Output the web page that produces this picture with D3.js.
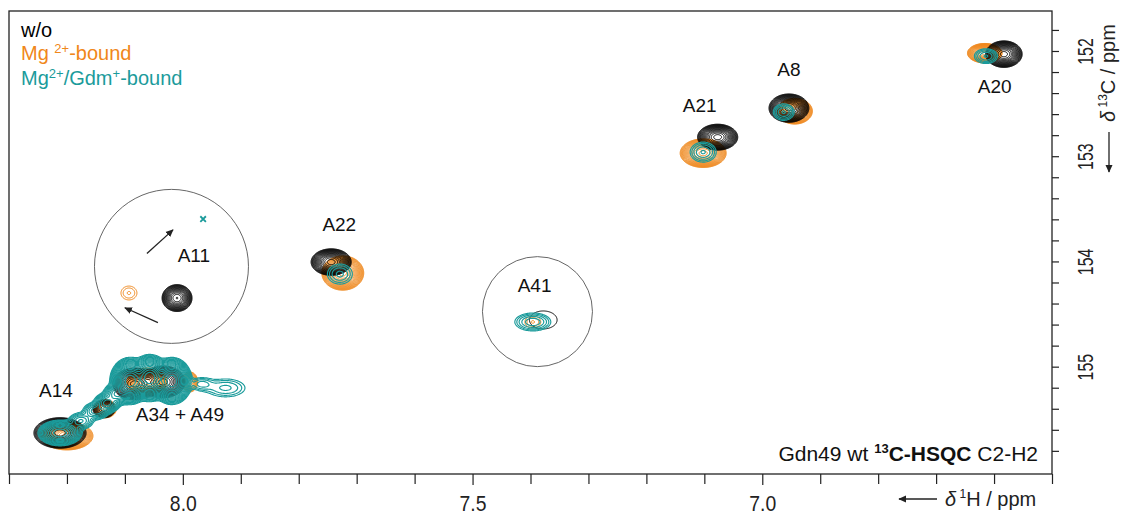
<!DOCTYPE html>
<html>
<head>
<meta charset="utf-8">
<script src="https://cdn.jsdelivr.net/npm/d3@7"></script>
<style>
  html, body { margin: 0; padding: 0; background: #fff; }
  svg { display: block; font-family: "Liberation Sans", Arial, Helvetica, sans-serif; }
</style>
</head>
<body>
<svg id="chart" width="1129" height="517"></svg>
<script>
// Spectral window (ppm)
const hWindow = [8.3, 6.5];
const cWindow = [151.62, 156.02];

// Axis ticks (ppm)
const hMajorTicks = [8.0, 7.5, 7.0];
const hMinorTicks = [8.3, 8.2, 8.1, 7.9, 7.8, 7.7, 7.6, 7.4, 7.3, 7.2, 7.1, 6.9, 6.8, 6.7, 6.6, 6.5];
const cMajorTicks = [152, 153, 154, 155];
const cMinorTicks = [151.8, 152.2, 152.4, 152.6, 152.8, 153.2, 153.4, 153.6, 153.8,
                     154.2, 154.4, 154.6, 154.8, 155.2, 155.4, 155.6, 155.8];

// Cross peaks: [δ1H ppm, δ13C ppm, intensity (contour base units), σ 1H ppm, σ 13C ppm]
const peaksFree = [
  [6.583, 152.030, 60, 0.0110, 0.044],   // A20
  [6.954, 152.543, 60, 0.0120, 0.047],   // A8
  [7.077, 152.819, 60, 0.0121, 0.043],   // A21
  [7.744, 154.006, 60, 0.0121, 0.044],   // A22
  [8.010, 154.348, 40, 0.0095, 0.047],   // A11
  [7.378, 154.556, 1.3, 0.033, 0.118],   // A41
  [8.212, 155.630, 80, 0.0152, 0.049],   // A14
  [8.083, 155.164, 60, 0.0133, 0.053],   // A34
  [8.034, 155.145, 60, 0.0133, 0.053],   // A49
  [8.136, 155.400, 10, 0.0090, 0.040]
];
const peaksMg = [
  [6.616, 152.021, 40, 0.0110, 0.034],   // A20
  [6.944, 152.572, 40, 0.0112, 0.045],   // A8
  [7.102, 152.971, 40, 0.0146, 0.050],   // A21
  [7.724, 154.110, 40, 0.0133, 0.060],   // A22
  [8.093, 154.300, 1.6, 0.0142, 0.068],  // A11
  [7.396, 154.575, 1.6, 0.0142, 0.059],  // A41
  [8.200, 155.658, 40, 0.0165, 0.049],   // A14
  [8.062, 155.145, 40, 0.0127, 0.049],   // A34
  [7.988, 155.145, 8, 0.0068, 0.0465],   // A49
  [8.134, 155.400, 10, 0.0090, 0.040]
];
const peaksMgGdm = [
  [6.614, 152.049, 4, 0.0120, 0.042],    // A20
  [6.963, 152.581, 4, 0.0108, 0.047],    // A8
  [7.102, 152.961, 4, 0.0135, 0.057],    // A21
  [7.729, 154.120, 3, 0.0145, 0.064],    // A22
  [7.396, 154.575, 5, 0.0173, 0.0475],   // A41
  [8.212, 155.630, 40, 0.0140, 0.045],   // A14
  [8.091, 155.136, 300, 0.0104, 0.0665], // A34 + A49
  [8.057, 155.108, 300, 0.0104, 0.0665],
  [8.019, 155.136, 300, 0.0104, 0.0665],
  [8.176, 155.516, 8, 0.0104, 0.038],    // bridge towards A14
  [8.150, 155.421, 10, 0.0104, 0.038],
  [8.131, 155.345, 25, 0.0090, 0.038],
  [8.114, 155.260, 30, 0.0090, 0.040],
  [7.968, 155.164, 3, 0.0120, 0.038],    // weak shoulder
  [7.926, 155.202, 3, 0.0224, 0.057]
];
// A11 in the Mg2+/Gdm+ state: weak cross marker only
const markMgGdm = [[7.965, 153.597]];

// Assignment labels (text baseline position in ppm)
const assignLabels = [
  ["A20", 6.599, 152.402],
  ["A8", 6.954, 152.234],
  ["A21", 7.108, 152.580],
  ["A22", 7.730, 153.710],
  ["A11", 7.981, 154.010],
  ["A41", 7.393, 154.290],
  ["A14", 8.219, 155.290],
  ["A34 + A49", 8.005, 155.514]
];

// Highlight circles: [center 1H, center 13C, radius px]
const circles = [[8.0196, 154.047, 77], [7.388, 154.477, 55]];
// Shift arrows around A11: [from 1H, from 13C, to 1H, to 13C]
const shiftArrows = [
  [8.062, 153.925, 8.017, 153.700],
  [8.043, 154.582, 8.100, 154.440]
];

const colors = { free: "#000000", mg: "#f0871a", mgGdm: "#1b9b9b" };

// ---------------------------------------------------------------
const plot = { left: 9, top: 11, right: 1052, bottom: 474 };
const x = d3.scaleLinear().domain(hWindow).range([plot.left, plot.right]);
const y = d3.scaleLinear().domain(cWindow).range([plot.top, plot.bottom]);

const svg = d3.select("#chart");
const defs = svg.append("defs");
defs.append("clipPath").attr("id", "plotClip")
  .append("rect")
  .attr("x", plot.left).attr("y", plot.top)
  .attr("width", plot.right - plot.left).attr("height", plot.bottom - plot.top);
defs.append("marker")
  .attr("id", "arrowHead")
  .attr("viewBox", "0 0 10 10")
  .attr("refX", 9).attr("refY", 5)
  .attr("markerWidth", 6).attr("markerHeight", 6)
  .attr("orient", "auto")
  .append("path").attr("d", "M0,0.5L10,5L0,9.5z").attr("fill", "#222");

// Sampling grid (1 px) over the plot area
const nx = plot.right - plot.left;
const ny = plot.bottom - plot.top;
const gridH = d3.scaleLinear().domain([0, nx]).range(hWindow);
const gridC = d3.scaleLinear().domain([0, ny]).range(cWindow);

function spectrum(peaks) {
  const v = new Float64Array(nx * ny);
  for (const [h, c, a, sh, sc] of peaks) {
    const cx = x(h) - plot.left, cy = y(c) - plot.top;
    const rx = 5 * Math.abs(x(h + sh) - x(h)), ry = 5 * Math.abs(y(c + sc) - y(c));
    const i0 = Math.max(0, Math.floor(cx - rx)), i1 = Math.min(nx - 1, Math.ceil(cx + rx));
    const j0 = Math.max(0, Math.floor(cy - ry)), j1 = Math.min(ny - 1, Math.ceil(cy + ry));
    for (let j = j0; j <= j1; j++) {
      const dc = (gridC(j + 0.5) - c) / sc;
      for (let i = i0; i <= i1; i++) {
        const dh = (gridH(i + 0.5) - h) / sh;
        v[j * nx + i] += a * Math.exp(-0.5 * (dh * dh + dc * dc));
      }
    }
  }
  return v;
}

const toPlot = d3.geoTransform({
  point(gx, gy) { this.stream.point(x(gridH(gx)), y(gridC(gy))); }
});
const contourPath = d3.geoPath(toPlot);

function drawContours(peaks, factor, count, color, width) {
  const levels = d3.range(count).map(k => Math.pow(factor, k));
  const sets = d3.contours().size([nx, ny]).thresholds(levels)(spectrum(peaks));
  layer.append("g")
    .selectAll("path")
    .data(sets)
    .join("path")
    .attr("d", contourPath)
    .attr("fill", "none")
    .attr("stroke", color)
    .attr("stroke-width", width)
    .attr("stroke-linejoin", "round");
}

const layer = svg.append("g").attr("clip-path", "url(#plotClip)");
drawContours(peaksMg, 1.25, 20, colors.mg, 1.0);
drawContours(peaksFree, 1.3, 18, colors.free, 0.95);
drawContours(peaksMgGdm, 1.4, 20, colors.mgGdm, 1.15);

layer.selectAll(".mark")
  .data(markMgGdm)
  .join("path")
  .attr("class", "mark")
  .attr("transform", d => `translate(${x(d[0])},${y(d[1])})`)
  .attr("d", d3.symbol(d3.symbolTimes).size(22))
  .attr("fill", "none")
  .attr("stroke", colors.mgGdm)
  .attr("stroke-width", 1.8);

// Circles and arrows
svg.append("g").selectAll("circle")
  .data(circles)
  .join("circle")
  .attr("cx", d => x(d[0])).attr("cy", d => y(d[1])).attr("r", d => d[2])
  .attr("fill", "none").attr("stroke", "#555").attr("stroke-width", 0.9);

svg.append("g").selectAll("line")
  .data(shiftArrows)
  .join("line")
  .attr("x1", d => x(d[0])).attr("y1", d => y(d[1]))
  .attr("x2", d => x(d[2])).attr("y2", d => y(d[3]))
  .attr("stroke", "#222").attr("stroke-width", 1.3)
  .attr("marker-end", "url(#arrowHead)");

// Assignment labels
svg.append("g").selectAll("text")
  .data(assignLabels)
  .join("text")
  .attr("x", d => x(d[1])).attr("y", d => y(d[2]))
  .attr("text-anchor", "middle")
  .attr("font-size", 19)
  .attr("fill", "#111")
  .text(d => d[0]);

// Frame
svg.append("rect")
  .attr("x", plot.left).attr("y", plot.top)
  .attr("width", plot.right - plot.left).attr("height", plot.bottom - plot.top)
  .attr("fill", "none").attr("stroke", "#222").attr("stroke-width", 1.3);

// Bottom (1H) axis
const hAxisMinor = d3.axisBottom(x).tickValues(hMinorTicks).tickSize(10).tickFormat("");
const hAxisMajor = d3.axisBottom(x).tickValues(hMajorTicks).tickSize(11).tickPadding(10)
  .tickFormat(d3.format(".1f"));
for (const ax of [hAxisMinor, hAxisMajor]) {
  const g = svg.append("g").attr("transform", `translate(0,${plot.bottom})`).call(ax);
  g.select(".domain").remove();
  g.selectAll("line").attr("stroke", "#222").attr("stroke-width", 1.2);
  g.selectAll("text")
    .attr("font-family", "Liberation Sans, Arial, sans-serif")
    .attr("font-size", 22).attr("fill", "#222")
    .attr("transform", "scale(0.88,1)");
}

// Right (13C) axis
const cAxisMinor = d3.axisRight(y).tickValues(cMinorTicks).tickSize(7).tickFormat("");
const cAxisMajor = d3.axisRight(y).tickValues(cMajorTicks).tickSize(7).tickFormat(d3.format("d"));
for (const ax of [cAxisMinor, cAxisMajor]) {
  const g = svg.append("g").attr("transform", `translate(${plot.right},0)`).call(ax);
  g.select(".domain").remove();
  g.selectAll("line").attr("stroke", "#222").attr("stroke-width", 1.2);
  g.selectAll("text")
    .attr("x", null).attr("dy", null)
    .attr("font-family", "Liberation Sans, Arial, sans-serif")
    .attr("font-size", 22).attr("fill", "#222")
    .attr("text-anchor", "middle")
    .attr("transform", "translate(41,0) rotate(-90) scale(0.72,1)");
}

// Axis titles
const hTitle = svg.append("g");
hTitle.append("line")
  .attr("x1", 937).attr("y1", 499).attr("x2", 899).attr("y2", 499)
  .attr("stroke", "#222").attr("stroke-width", 1.3).attr("marker-end", "url(#arrowHead)");
const hT = hTitle.append("text").attr("x", 945).attr("y", 506)
  .attr("font-size", 20).attr("fill", "#222");
hT.append("tspan").attr("font-style", "italic").text("δ");
hT.append("tspan").attr("font-size", 12).attr("dy", -8).text(" 1");
hT.append("tspan").attr("dy", 8).text("H / ppm");

const cTitle = svg.append("g").attr("transform", "translate(1115,172) rotate(-90)");
cTitle.append("line")
  .attr("x1", 40).attr("y1", -6).attr("x2", 0).attr("y2", -6)
  .attr("stroke", "#222").attr("stroke-width", 1.3).attr("marker-end", "url(#arrowHead)");
const cT = cTitle.append("text").attr("x", 50).attr("y", 0)
  .attr("font-size", 20).attr("fill", "#222");
cT.append("tspan").attr("font-style", "italic").text("δ");
cT.append("tspan").attr("font-size", 12).attr("dy", -8).text(" 13");
cT.append("tspan").attr("dy", 8).text("C / ppm");

// Legend
const legend = svg.append("g").attr("font-size", 20);
legend.append("text").attr("x", 21).attr("y", 37).attr("fill", colors.free).text("w/o");
const lg2 = legend.append("text").attr("x", 21).attr("y", 60).attr("fill", colors.mg);
lg2.append("tspan").text("Mg ");
lg2.append("tspan").attr("font-size", 13).attr("dy", -7).text("2+");
lg2.append("tspan").attr("dy", 7).text("-bound");
const lg3 = legend.append("text").attr("x", 21).attr("y", 85).attr("fill", colors.mgGdm);
lg3.append("tspan").text("Mg");
lg3.append("tspan").attr("font-size", 13).attr("dy", -7).text("2+");
lg3.append("tspan").attr("dy", 7).text("/Gdm");
lg3.append("tspan").attr("font-size", 13).attr("dy", -7).text("+");
lg3.append("tspan").attr("dy", 7).text("-bound");

// Experiment tag
const tag = svg.append("text").attr("x", 1038).attr("y", 461)
  .attr("text-anchor", "end").attr("font-size", 21).attr("fill", "#111");
tag.append("tspan").text("Gdn49 wt ");
tag.append("tspan").attr("font-size", 13).attr("font-weight", "bold").attr("dy", -8).text("13");
tag.append("tspan").attr("font-weight", "bold").attr("dy", 8).text("C-HSQC");
tag.append("tspan").text(" C2-H2");
</script>
</body>
</html>
